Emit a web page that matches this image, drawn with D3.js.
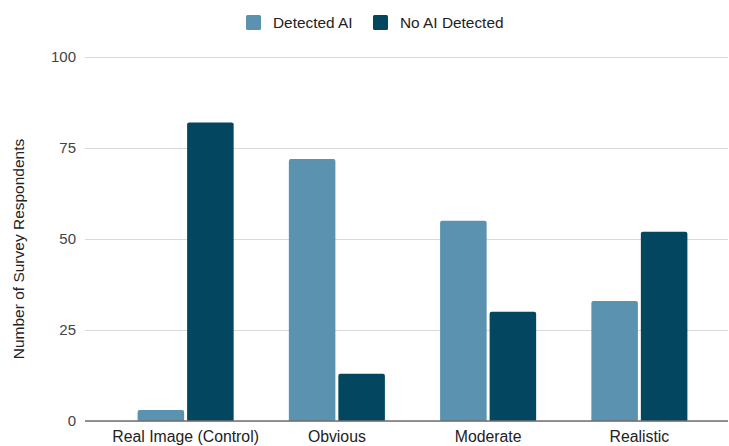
<!DOCTYPE html>
<html>
<head>
<meta charset="utf-8">
<script src="https://cdn.jsdelivr.net/npm/d3@7"></script>
<style>
  html, body { margin: 0; padding: 0; background: #fff; }
  svg { display: block; font-family: Arial, "Liberation Sans", sans-serif; }
</style>
</head>
<body>
<svg id="chart" width="729" height="446"></svg>
<script>
// Survey responses per image category
const categories = ["Real Image (Control)", "Obvious", "Moderate", "Realistic"];
const seriesNames = ["Detected AI", "No AI Detected"];
const detectedAI = [3, 72, 55, 33];
const noAIDetected = [82, 13, 30, 52];
const yTicks = [0, 25, 50, 75, 100];
const seriesColors = ["#5b92b0", "#03465f"];

const svg = d3.select("#chart");
const plot = { left: 85, right: 728, top: 57, bottom: 421 };

const y = d3.scaleLinear().domain([0, 100]).range([plot.bottom, plot.top]);

const x0 = d3.scaleBand()
  .domain(categories)
  .range([110, 715])
  .paddingInner(0.365)
  .paddingOuter(0.1825);

const x1 = d3.scaleBand()
  .domain(seriesNames)
  .range([0, x0.bandwidth()])
  .paddingInner(0.06);

const color = d3.scaleOrdinal().domain(seriesNames).range(seriesColors);

// Gridlines and y tick labels
const yAxis = d3.axisLeft(y).tickValues(yTicks).tickSize(-(plot.right - plot.left)).tickPadding(9);
const gy = svg.append("g").attr("transform", `translate(${plot.left},0)`).call(yAxis);
gy.select(".domain").remove();
gy.selectAll(".tick line").attr("stroke", "#d9d9d9").attr("stroke-width", 1);
gy.selectAll(".tick text")
  .attr("fill", "#444")
  .attr("font-size", 15)
  .attr("font-family", "Arial, 'Liberation Sans', sans-serif");

// Bars with slightly rounded top corners
function barPath(x, yTop, w, yBase, r) {
  const h = yBase - yTop;
  r = Math.min(r, h, w / 2);
  return `M${x},${yBase}V${yTop + r}Q${x},${yTop} ${x + r},${yTop}H${x + w - r}Q${x + w},${yTop} ${x + w},${yTop + r}V${yBase}Z`;
}

const rows = categories.map((c, i) => ({
  category: c,
  values: [
    { key: seriesNames[0], value: detectedAI[i] },
    { key: seriesNames[1], value: noAIDetected[i] }
  ]
}));

const groups = svg.append("g").selectAll("g")
  .data(rows)
  .join("g")
  .attr("transform", d => `translate(${x0(d.category)},0)`);

groups.selectAll("path")
  .data(d => d.values)
  .join("path")
  .attr("fill", d => color(d.key))
  .attr("d", d => barPath(x1(d.key), y(d.value), x1.bandwidth(), y(0), 2));

// Baseline
svg.append("line")
  .attr("x1", plot.left).attr("x2", plot.right)
  .attr("y1", y(0)).attr("y2", y(0))
  .attr("stroke", "#6f6f6f").attr("stroke-width", 1.3);

// Category labels
svg.append("g").selectAll("text")
  .data(categories)
  .join("text")
  .attr("x", d => x0(d) + x0.bandwidth() / 2)
  .attr("y", 442)
  .attr("text-anchor", "middle")
  .attr("font-size", 15.8)
  .attr("fill", "#222")
  .text(d => d);

// Y axis title
svg.append("text")
  .attr("transform", "translate(24,249) rotate(-90)")
  .attr("text-anchor", "middle")
  .attr("font-size", 15.5)
  .attr("fill", "#222")
  .text("Number of Survey Respondents");

// Legend
const legendItems = [
  { key: seriesNames[0], x: 246, tx: 273 },
  { key: seriesNames[1], x: 373, tx: 400 }
];
const lg = svg.append("g").selectAll("g").data(legendItems).join("g");
lg.append("rect")
  .attr("x", d => d.x).attr("y", 15)
  .attr("width", 15).attr("height", 15)
  .attr("rx", 1.5)
  .attr("fill", d => color(d.key));
lg.append("text")
  .attr("x", d => d.tx).attr("y", 28)
  .attr("font-size", 15.4)
  .attr("fill", "#222")
  .text(d => d.key);
</script>
</body>
</html>
